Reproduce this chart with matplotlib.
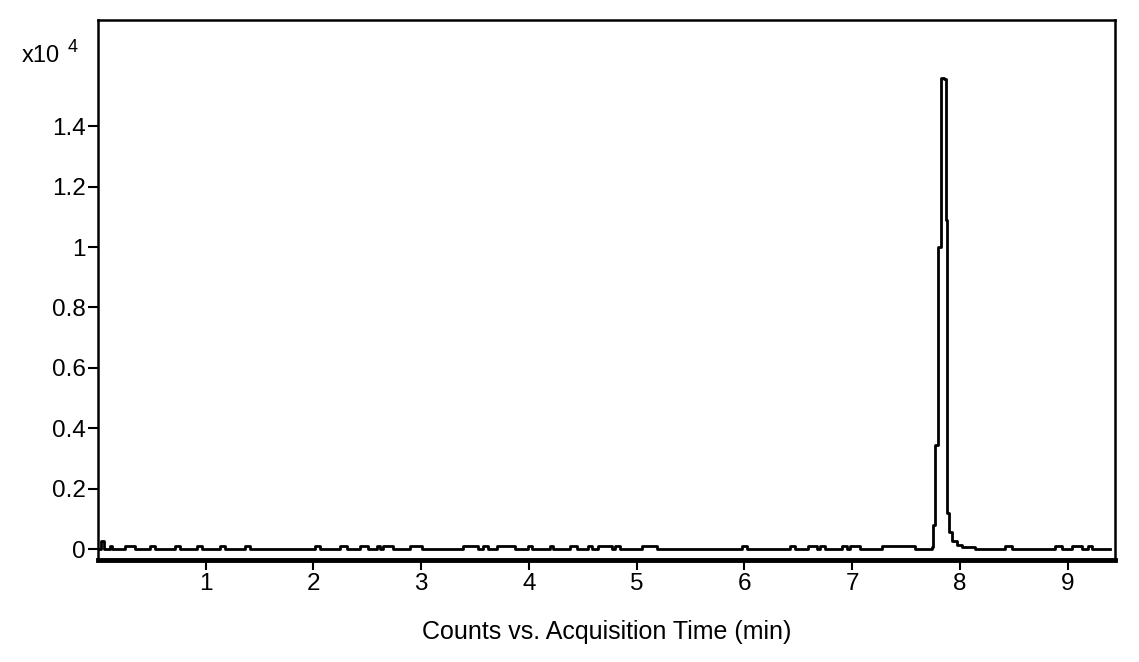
import numpy as np
import matplotlib
matplotlib.use('Agg')
import matplotlib.pyplot as plt

plt.rcParams['font.family'] = ['Liberation Sans', 'DejaVu Sans']

# baseline noise bumps (min)
bump_start = [0.109, 0.248, 0.480, 0.712, 0.916, 1.130, 1.362,
              2.012, 2.244, 2.430, 2.588, 2.643, 2.894,
              3.386, 3.572, 3.702, 3.990, 4.194, 4.380, 4.547, 4.640, 4.798,
              5.048, 5.977,
              6.422, 6.590, 6.701, 6.906, 6.981, 7.277,
              8.419, 8.883, 9.041, 9.189]
bump_end = [0.127, 0.341, 0.526, 0.759, 0.963, 1.176, 1.409,
            2.058, 2.309, 2.504, 2.616, 2.736, 3.006,
            3.526, 3.618, 3.869, 4.027, 4.222, 4.445, 4.584, 4.770, 4.844,
            5.188, 6.023,
            6.469, 6.673, 6.748, 6.952, 7.072, 7.583,
            8.484, 8.948, 9.134, 9.227]
bump_level = 0.01

# start spike
start_t = [0.01, 0.03, 0.06]
start_v = [0.0, 0.025, 0.0]

# peak (x10^4 counts)
peak_t = [7.741, 7.750, 7.769, 7.797, 7.824, 7.852, 7.871, 7.880, 7.899, 7.927, 7.973, 8.019, 8.140]
peak_v = [0.007, 0.08, 0.345, 1.0, 1.56, 1.555, 1.09, 0.12, 0.056, 0.026, 0.013, 0.007, 0.0]
end_t = 9.39

yticks = [0, 0.2, 0.4, 0.6, 0.8, 1.0, 1.2, 1.4]
ytick_labels = ['0', '0.2', '0.4', '0.6', '0.8', '1', '1.2', '1.4']
xticks = [1, 2, 3, 4, 5, 6, 7, 8, 9]

# build the step trace
times = list(start_t)
vals = list(start_v)
for a, b in zip(bump_start, bump_end):
    times += [a, b]
    vals += [bump_level, 0.0]
times += peak_t
vals += peak_v
times.append(end_t)
vals.append(0.0)
order = np.argsort(times, kind='stable')
times = np.array(times)[order]
vals = np.array(vals)[order]

fig = plt.figure(figsize=(11.39, 6.62), dpi=100)
ax = fig.add_axes([98 / 1139, 1 - 560 / 662, (1115 - 98) / 1139, (560 - 20) / 662])

ax.step(times, vals, where='post', color='black', linewidth=2.0)

ax.set_xlim(0.0, 9.44)
ax.set_ylim(-0.0364, 1.7517)

ax.set_xticks(xticks)
ax.set_xticklabels([str(x) for x in xticks])
ax.set_yticks(yticks)
ax.set_yticklabels(ytick_labels)
ax.tick_params(axis='both', direction='out', length=7, width=1.5, colors='black',
               labelsize=17.5, pad=2)

for side in ['left', 'right', 'top']:
    ax.spines[side].set_linewidth(1.8)
ax.spines['bottom'].set_linewidth(3.5)

ax.set_xlabel('Counts vs. Acquisition Time (min)', fontsize=18, labelpad=18)

fig.text(22 / 1139, 1 - 62 / 662, 'x10', fontsize=17, ha='left', va='baseline')
fig.text(68 / 1139, 1 - 52 / 662, '4', fontsize=13, ha='left', va='baseline')

fig.savefig('out.png', dpi=100)
